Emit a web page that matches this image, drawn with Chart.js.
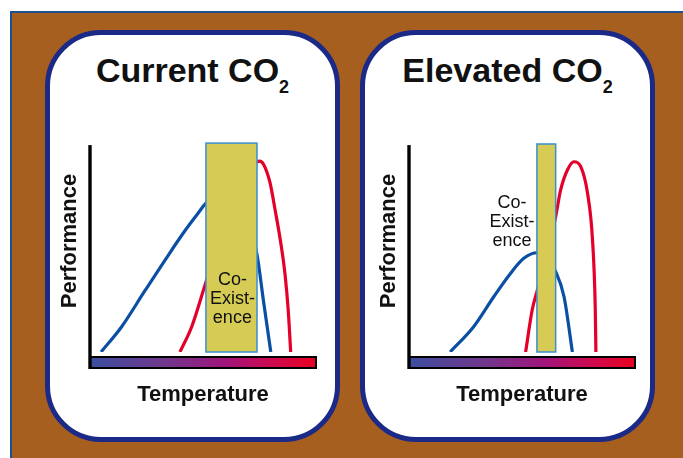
<!DOCTYPE html>
<html>
<head>
<meta charset="utf-8">
<script src="https://cdn.jsdelivr.net/npm/chart.js@4/dist/chart.umd.min.js"></script>
<style>
  body { margin: 0; background: #fff; }
  #stage { position: relative; width: 683px; height: 458px; overflow: hidden; background: #fff; }
  #frame {
    position: absolute; left: 10px; top: 11px; right: 0; bottom: 0;
    background: #a75f20;
    border-top: 2px solid #1d4f91; border-left: 2px solid #1d4f91;
    box-sizing: border-box;
  }
  .panel {
    position: absolute; top: 30px; width: 295px; height: 412px;
    box-sizing: border-box; background: #fff;
    border: 5px solid #1b2a86; border-radius: 56px;
  }
  .title {
    position: absolute; left: 0; right: 0; top: 18px;
    text-align: center; white-space: nowrap;
    font: bold 34px "Liberation Sans", Arial, Helvetica, sans-serif;
    line-height: 34px; color: #111;
  }
  .title sub { font-size: 18px; vertical-align: -11px; line-height: 0; }
  canvas { position: absolute; top: 110px; }
</style>
</head>
<body>
<div id="stage">
  <div id="frame"></div>
  <div class="panel" style="left:45px"><div class="title">Current CO<sub>2</sub></div></div>
  <div class="panel" style="left:360px"><div class="title">Elevated CO<sub>2</sub></div></div>
  <canvas id="chartCurrent" width="285" height="320" style="left:50px"></canvas>
  <canvas id="chartElevated" width="285" height="320" style="left:369px"></canvas>
</div>
<script>
// axis labels
const xTitle = 'Temperature';
const yTitle = 'Performance';
const zoneLabel = ['Co-', 'Exist-', 'ence'];

// current CO2: cool-adapted (blue) and warm-adapted (red) performance curves
const currentBlueX = [4.9, 14, 24.3, 33.2, 42, 47.9, 50.9, 57, 64, 70, 73.8, 76.7, 80];
const currentBlueY = [0, 11.4, 27.6, 41.4, 54.6, 62.6, 66.6, 71, 67, 57, 44.5, 23.4, 0];
const currentRedX = [39.8, 45, 50.9, 57, 63, 69, 72.5, 75, 76.7, 79.6, 82, 84.2, 86.3, 87.7, 88.8];
const currentRedY = [0, 11.4, 30.2, 50, 66, 79.5, 84.5, 86, 84.7, 76.5, 63.5, 50.5, 35, 19, 0];
const currentZone = [51.3, 73.9, 94.1];   // from, to, top

// elevated CO2
const elevatedBlueX = [18.2, 28.6, 37.5, 44.9, 50.8, 56.8, 60.5, 64.9, 68.6, 72.3];
const elevatedBlueY = [0, 11.4, 24.9, 35.4, 42.2, 44.7, 42.5, 36.2, 24.9, 0];
const elevatedRedX = [51.6, 54.5, 56.8, 61, 64.9, 67.1, 70.1, 73, 76, 79, 81.2, 82.4, 82.7];
const elevatedRedY = [0, 18.9, 27.9, 44, 61, 73, 82, 85.7, 83.5, 71.5, 50.5, 20.4, 0];
const elevatedZone = [56.6, 64.9, 93.7];

const axisTop = 93.2;
const barStops = [[0, '#3b4fa0'], [0.35, '#74358b'], [0.6, '#a0147b'], [0.8, '#cc0a50'], [1, '#e80020']];

const FONT = '"Liberation Sans", Arial, Helvetica, sans-serif';
Chart.defaults.font.family = FONT;

const toPoints = (xs, ys) => xs.map((x, i) => ({ x: x, y: ys[i] }));

const scenePlugin = {
  id: 'scene',
  beforeDatasetsDraw(chart, args, opts) {
    const { ctx, chartArea: a, scales: { y } } = chart;
    ctx.save();
    // temperature colour bar along the x axis
    const g = ctx.createLinearGradient(a.left, 0, a.right, 0);
    barStops.forEach(s => g.addColorStop(s[0], s[1]));
    ctx.fillStyle = g;
    ctx.fillRect(a.left, a.bottom + 5, a.right - a.left, 11);
    ctx.lineWidth = 2;
    ctx.strokeStyle = '#000';
    ctx.strokeRect(a.left, a.bottom + 5, a.right - a.left, 11);
    // performance axis
    ctx.lineWidth = 3.4;
    ctx.beginPath();
    ctx.moveTo(a.left, y.getPixelForValue(axisTop));
    ctx.lineTo(a.left, a.bottom + 17);
    ctx.stroke();
    ctx.restore();
  },
  afterDatasetsDraw(chart, args, opts) {
    const { ctx, scales: { x, y } } = chart;
    const z = opts.zone;
    const x0 = x.getPixelForValue(z[0]);
    const x1 = x.getPixelForValue(z[1]);
    const y0 = y.getPixelForValue(z[2]);
    const y1 = y.getPixelForValue(0);
    ctx.save();
    ctx.fillStyle = '#d5cb55';
    ctx.fillRect(x0, y0, x1 - x0, y1 - y0);
    ctx.lineWidth = 1.5;
    ctx.strokeStyle = '#3a8fd2';
    ctx.strokeRect(x0, y0, x1 - x0, y1 - y0);
    // co-existence label
    ctx.font = '18px ' + FONT;
    ctx.fillStyle = '#111';
    ctx.textAlign = 'center';
    ctx.textBaseline = 'alphabetic';
    const lx = x.getPixelForValue(opts.labelAt[0]);
    const ly = y.getPixelForValue(opts.labelAt[1]);
    zoneLabel.forEach((t, i) => ctx.fillText(t, lx, ly + (i - 1) * 19));
    ctx.restore();
  }
};

function makeChart(id, blue, red, zone, labelAt) {
  return new Chart(document.getElementById(id), {
    type: 'line',
    data: {
      datasets: [
        { data: blue, borderColor: '#0a4fa3' },
        { data: red, borderColor: '#e3002b' }
      ]
    },
    options: {
      responsive: false,
      animation: false,
      events: [],
      layout: { padding: { left: 9, right: 19, top: 20, bottom: 24 } },
      elements: {
        point: { radius: 0 },
        line: { borderWidth: 3.2, cubicInterpolationMode: 'monotone', fill: false }
      },
      scales: {
        x: {
          type: 'linear', min: 0, max: 100,
          grid: { display: false, drawTicks: false },
          border: { display: false },
          ticks: { display: false },
          title: { display: true, text: xTitle, color: '#111',
                   font: { size: 22, weight: 'bold', lineHeight: 1 },
                   padding: { top: 32, bottom: 0 } }
        },
        y: {
          type: 'linear', min: 0, max: 100,
          grid: { display: false, drawTicks: false },
          border: { display: false },
          ticks: { display: false },
          title: { display: true, text: yTitle, color: '#111',
                   font: { size: 22, weight: 'bold', lineHeight: 1 },
                   padding: { top: 0, bottom: 9 } }
        }
      },
      plugins: {
        legend: { display: false },
        tooltip: { enabled: false },
        scene: { zone: zone, labelAt: labelAt }
      }
    },
    plugins: [scenePlugin]
  });
}

makeChart('chartCurrent',
  toPoints(currentBlueX, currentBlueY),
  toPoints(currentRedX, currentRedY),
  currentZone, [63, 21.6]);

makeChart('chartElevated',
  toPoints(elevatedBlueX, elevatedBlueY),
  toPoints(elevatedRedX, elevatedRedY),
  elevatedZone, [45.6, 56.4]);
</script>
</body>
</html>
